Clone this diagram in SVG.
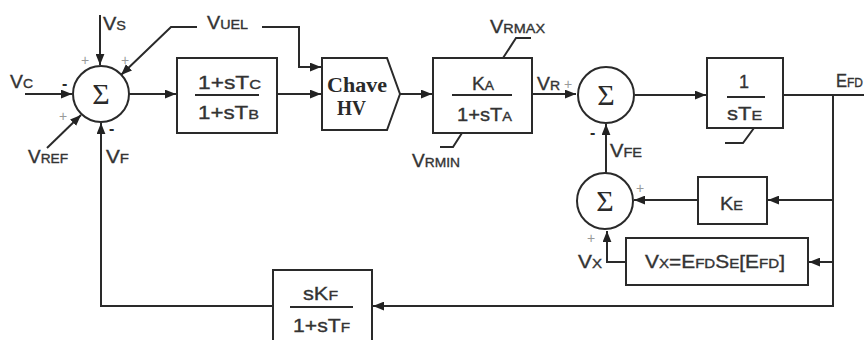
<svg xmlns="http://www.w3.org/2000/svg" width="864" height="340" viewBox="0 0 864 340">
<defs>
<marker id="ah" viewBox="0 0 10 8" refX="10" refY="4" markerWidth="11" markerHeight="9" markerUnits="userSpaceOnUse" orient="auto">
<path d="M0,0 L10,4 L0,8 z" fill="#222"/>
</marker>
</defs>
<style>
.ln{fill:none;stroke:#2a2a2a;stroke-width:2}
.bx{fill:#fff;stroke:#2a2a2a;stroke-width:2}
.t{font-family:"Liberation Sans",Arial,sans-serif;font-size:18px;fill:#333;stroke:#333;stroke-width:0.35}
.s{font-size:13px}
.pm{font-family:"Liberation Sans",Arial,sans-serif;font-size:14px;fill:#999}
.mn{font-family:"Liberation Sans",Arial,sans-serif;font-size:16px;fill:#2a2a2a;font-weight:bold}
.sig{font-family:"Liberation Serif","Times New Roman",serif;font-size:30px;fill:#2a2a2a;text-anchor:middle}
.hv{font-family:"Liberation Serif","Times New Roman",serif;font-size:21px;font-weight:bold;fill:#2a2a2a}
</style>
<rect width="864" height="340" fill="#fff"/>

<g id="connectors">
<path class="ln" d="M100,15 V65" marker-end="url(#ah)"/>
<path class="ln" d="M197,27 H171 L121,75" marker-end="url(#ah)"/>
<path class="ln" d="M262,27 H299 V67 H321" marker-end="url(#ah)"/>
<path class="ln" d="M25,94 H72" marker-end="url(#ah)"/>
<path class="ln" d="M47,148 L81,115" marker-end="url(#ah)"/>
<path class="ln" d="M273,306 H101 V123" marker-end="url(#ah)"/>
<path class="ln" d="M129,94 H176" marker-end="url(#ah)"/>
<path class="ln" d="M277,94 H321" marker-end="url(#ah)"/>
<path class="ln" d="M400,94 H432" marker-end="url(#ah)"/>
<path class="ln" d="M503,58 L516,38 H531"/>
<path class="ln" d="M462,133 L453,147 H440"/>
<path class="ln" d="M532,94 H576" marker-end="url(#ah)"/>
<path class="ln" d="M635,95 H706" marker-end="url(#ah)"/>
<path class="ln" d="M754,128 L743,143 H725"/>
<path class="ln" d="M783,95 H864"/>
<path class="ln" d="M833,95 V306 H373" marker-end="url(#ah)"/>
<path class="ln" d="M833,200 H768" marker-end="url(#ah)"/>
<path class="ln" d="M698,200 H634" marker-end="url(#ah)"/>
<path class="ln" d="M833,262 H809" marker-end="url(#ah)"/>
<path class="ln" d="M626,262 H607 V231" marker-end="url(#ah)"/>
<path class="ln" d="M606,173 V124" marker-end="url(#ah)"/>
</g>

<g id="sum1">
<circle class="bx" cx="101" cy="94" r="28"/>
<text class="sig" x="101" y="104">Σ</text>
</g>
<g id="sum2">
<circle class="bx" cx="606" cy="95" r="28"/>
<text class="sig" x="606" y="105">Σ</text>
</g>
<g id="sum3">
<circle class="bx" cx="605" cy="201" r="28"/>
<text class="sig" x="605" y="211">Σ</text>
</g>

<g id="leadlag">
<rect class="bx" x="177" y="58" width="100" height="75"/>
<line class="ln" x1="195" y1="95" x2="259" y2="95"/>
<text class="t" x="198" y="89" textLength="63" lengthAdjust="spacingAndGlyphs">1+sT<tspan class="s">C</tspan></text>
<text class="t" x="198" y="119" textLength="61" lengthAdjust="spacingAndGlyphs">1+sT<tspan class="s">B</tspan></text>
</g>

<g id="chave">
<path class="bx" d="M322,58 H387 L400,94 L387,130 H322 Z"/>
<text class="hv" x="327" y="92" textLength="60" lengthAdjust="spacingAndGlyphs">Chave</text>
<text class="hv" x="337" y="115" textLength="29" lengthAdjust="spacingAndGlyphs">HV</text>
</g>

<g id="ka">
<rect class="bx" x="433" y="58" width="99" height="75"/>
<line class="ln" x1="452" y1="95" x2="512" y2="95"/>
<text class="t" x="472" y="90" textLength="22" lengthAdjust="spacingAndGlyphs">K<tspan class="s">A</tspan></text>
<text class="t" x="457" y="121" textLength="55" lengthAdjust="spacingAndGlyphs">1+sT<tspan class="s">A</tspan></text>
</g>

<g id="te">
<rect class="bx" x="707" y="58" width="76" height="70"/>
<line class="ln" x1="727" y1="97" x2="765" y2="97"/>
<text class="t" x="739" y="88">1</text>
<text class="t" x="727" y="120" textLength="35" lengthAdjust="spacingAndGlyphs">sT<tspan class="s">E</tspan></text>
</g>

<g id="ke">
<rect class="bx" x="698" y="177" width="69" height="47"/>
<text class="t" x="720" y="210" textLength="23" lengthAdjust="spacingAndGlyphs">K<tspan class="s">E</tspan></text>
</g>

<g id="vx">
<rect class="bx" x="626" y="238" width="182" height="47"/>
<text class="t" x="645" y="268" textLength="140" lengthAdjust="spacingAndGlyphs">V<tspan class="s">X</tspan>=E<tspan class="s">FD</tspan>S<tspan class="s">E</tspan>[E<tspan class="s">FD</tspan>]</text>
</g>

<g id="kf">
<rect class="bx" x="273" y="270" width="99" height="80"/>
<line class="ln" x1="290" y1="307" x2="353" y2="307"/>
<text class="t" x="303" y="300" textLength="35" lengthAdjust="spacingAndGlyphs">sK<tspan class="s">F</tspan></text>
<text class="t" x="293" y="332" textLength="57" lengthAdjust="spacingAndGlyphs">1+sT<tspan class="s">F</tspan></text>
</g>

<g id="labels">
<text class="t" x="103" y="30" textLength="23" lengthAdjust="spacingAndGlyphs">V<tspan class="s">S</tspan></text>
<text class="t" x="207" y="29" textLength="41" lengthAdjust="spacingAndGlyphs">V<tspan class="s">UEL</tspan></text>
<text class="t" x="10" y="88" textLength="23" lengthAdjust="spacingAndGlyphs">V<tspan class="s">C</tspan></text>
<text class="t" x="28" y="163" textLength="40" lengthAdjust="spacingAndGlyphs">V<tspan class="s">REF</tspan></text>
<text class="t" x="106" y="163" textLength="23" lengthAdjust="spacingAndGlyphs">V<tspan class="s">F</tspan></text>
<text class="t" x="490" y="33" textLength="55" lengthAdjust="spacingAndGlyphs">V<tspan class="s">RMAX</tspan></text>
<text class="t" x="412" y="167" textLength="48" lengthAdjust="spacingAndGlyphs">V<tspan class="s">RMIN</tspan></text>
<text class="t" x="537" y="90" textLength="23" lengthAdjust="spacingAndGlyphs">V<tspan class="s">R</tspan></text>
<text class="t" x="610" y="157" textLength="32" lengthAdjust="spacingAndGlyphs">V<tspan class="s">FE</tspan></text>
<text class="t" x="836" y="87" textLength="27" lengthAdjust="spacingAndGlyphs">E<tspan class="s">FD</tspan></text>
<text class="t" x="578" y="268" textLength="24" lengthAdjust="spacingAndGlyphs">V<tspan class="s">X</tspan></text>
<text class="pm" x="81" y="65">+</text>
<text class="pm" x="121" y="65">+</text>
<text class="pm" x="59" y="121">+</text>
<text class="pm" x="564" y="89">+</text>
<text class="pm" x="636" y="193">+</text>
<text class="pm" x="587" y="243">+</text>
<text class="mn" x="62" y="89">-</text>
<text class="mn" x="109" y="134">-</text>
<text class="mn" x="590" y="138">-</text>
</g>
</svg>
